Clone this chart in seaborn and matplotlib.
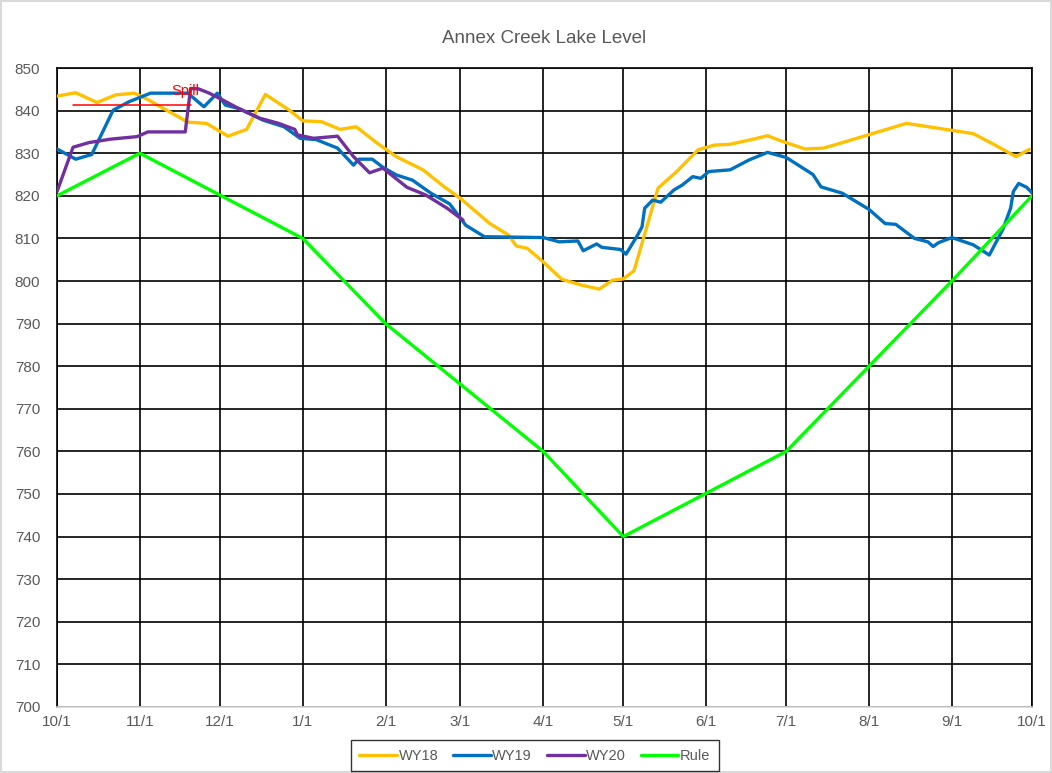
import pandas as pd
import numpy as np
import matplotlib.pyplot as plt
import seaborn as sns

# days since 10/1 and lake level (ft)
wy18_day = [0, 7, 15, 22, 29, 34, 41, 49, 56, 64, 71, 78, 87, 92, 99, 106, 112, 120,
            127, 137, 145, 151, 162, 169, 172, 176, 182, 189, 196, 203, 208, 212, 216,
            225, 232, 240, 246, 252, 260, 266, 271, 280, 287, 293, 318, 343, 350, 359, 364]
wy18_lvl = [843.4, 844.2, 841.9, 843.7, 844.1, 842.6, 840.1, 837.3, 837.0, 834.0, 835.6,
            843.8, 840.1, 837.6, 837.4, 835.6, 836.2, 832.3, 829.2, 826.1, 822.1, 819.4,
            813.5, 810.8, 808.2, 807.7, 804.5, 800.4, 799.1, 798.1, 800.2, 800.5, 802.4,
            821.8, 825.7, 830.8, 831.9, 832.1, 833.2, 834.1, 832.9, 831.0, 831.2, 832.3,
            837.0, 834.6, 832.3, 829.2, 830.9]

wy19_day = [0, 7, 13, 21, 27, 35, 49, 55, 60, 63, 68, 77, 85, 91, 97, 105, 111, 113,
            118, 122, 127, 133, 140, 147, 153, 160, 182, 188, 195, 197, 202, 204, 211,
            213, 217, 219, 220, 223, 226, 231, 234, 238, 241, 244, 252, 259, 266, 273,
            283, 286, 294, 304, 310, 314, 321, 326, 328, 330, 335, 343, 349, 354, 357,
            358, 360, 363, 365]
wy19_lvl = [831.0, 828.6, 829.7, 840.1, 842.1, 844.1, 844.1, 840.9, 844.1, 841.3, 840.5,
            837.8, 836.2, 833.5, 833.2, 831.2, 827.2, 828.6, 828.6, 826.7, 824.9, 823.7,
            820.6, 818.1, 813.1, 810.4, 810.2, 809.2, 809.4, 807.1, 808.7, 807.9, 807.4,
            806.3, 810.4, 812.7, 817.1, 819.0, 818.5, 821.4, 822.5, 824.5, 824.1, 825.7,
            826.1, 828.4, 830.2, 829.0, 825.0, 822.1, 820.6, 816.8, 813.5, 813.3, 810.0,
            809.2, 808.1, 809.0, 810.2, 808.5, 806.1, 812.0, 817.1, 821.0, 822.9, 822.0,
            820.7]

wy20_day = [0, 6, 12, 20, 30, 34, 48, 50, 53, 57, 62, 68, 76, 83, 89, 90, 96, 105,
            111, 117, 122, 131, 138, 146, 152]
wy20_lvl = [821.0, 831.4, 832.5, 833.3, 833.9, 835.0, 835.0, 845.2, 845.1, 844.1, 842.5,
            840.5, 838.2, 837.0, 835.6, 834.3, 833.5, 834.0, 829.2, 825.4, 826.5, 822.0,
            820.2, 817.1, 814.3]

rule_day = [0, 31, 92, 123, 182, 212, 273, 304, 335, 365]
rule_lvl = [820, 830, 810, 790, 760, 740, 760, 780, 800, 820]

spill_level = 841.3
spill_from, spill_to = 6, 50

month_day = [0, 31, 61, 92, 123, 151, 182, 212, 243, 273, 304, 335, 365]
month_lbl = ['10/1', '11/1', '12/1', '1/1', '2/1', '3/1', '4/1', '5/1',
             '6/1', '7/1', '8/1', '9/1', '10/1']

frames = []
for name, d, v in [('WY18', wy18_day, wy18_lvl), ('WY19', wy19_day, wy19_lvl),
                   ('WY20', wy20_day, wy20_lvl), ('Rule', rule_day, rule_lvl)]:
    frames.append(pd.DataFrame({'day': d, 'level': v, 'series': name}))
df = pd.concat(frames, ignore_index=True)

sns.set_style('white')
plt.rcParams['font.family'] = ['Liberation Sans', 'DejaVu Sans']

fig = plt.figure(figsize=(10.52, 7.73), dpi=100)
fig.patch.set_edgecolor('#d9d9d9')
fig.patch.set_linewidth(1.5)
ax = fig.add_axes([0.0542, 0.0854, 0.9268, 0.8266])

palette = {'WY18': '#FFC000', 'WY19': '#0070C0', 'WY20': '#7030A0', 'Rule': '#00FF00'}
sns.lineplot(data=df, x='day', y='level', hue='series', palette=palette,
             estimator=None, sort=False, linewidth=2.4, ax=ax, zorder=3)

# spill line
ax.plot([spill_from, spill_to], [spill_level, spill_level], color='#FF0000', linewidth=1.1, zorder=4)
ax.text(48, spill_level + 3.3, 'Spill', color='#FF0000', fontsize=10.5, ha='center', va='center', zorder=5)

ax.set_xlim(0, 365)
ax.set_ylim(700, 850)
ax.set_xticks(month_day)
ax.set_xticklabels(month_lbl)
ax.set_yticks(np.arange(700, 851, 10))
ax.tick_params(length=0, labelsize=11, labelcolor='#595959')
ax.tick_params(axis='y', pad=12)
ax.tick_params(axis='x', pad=6)
ax.grid(True, color='black', linewidth=1.2)
ax.set_axisbelow(True)
for s in ['left', 'right', 'top']:
    ax.spines[s].set_color('black')
    ax.spines[s].set_linewidth(1.2)
ax.spines['bottom'].set_color('#d9d9d9')
ax.spines['bottom'].set_linewidth(1.2)
ax.set_xlabel('')
ax.set_ylabel('')
ax.set_title('Annex Creek Lake Level', fontsize=13.5, color='#595959', pad=18)

sns.move_legend(ax, 'upper center', bbox_to_anchor=(0.49, -0.047), ncol=4, title=None,
                frameon=True, fontsize=10.5, handlelength=2.6, columnspacing=1.0,
                handletextpad=0.1, borderpad=0.3)
leg = ax.get_legend()
leg.get_frame().set_edgecolor('black')
leg.get_frame().set_boxstyle('square')
leg.get_frame().set_linewidth(1.0)
for t in leg.get_texts():
    t.set_color('#595959')

fig.savefig('out.png', dpi=100)
